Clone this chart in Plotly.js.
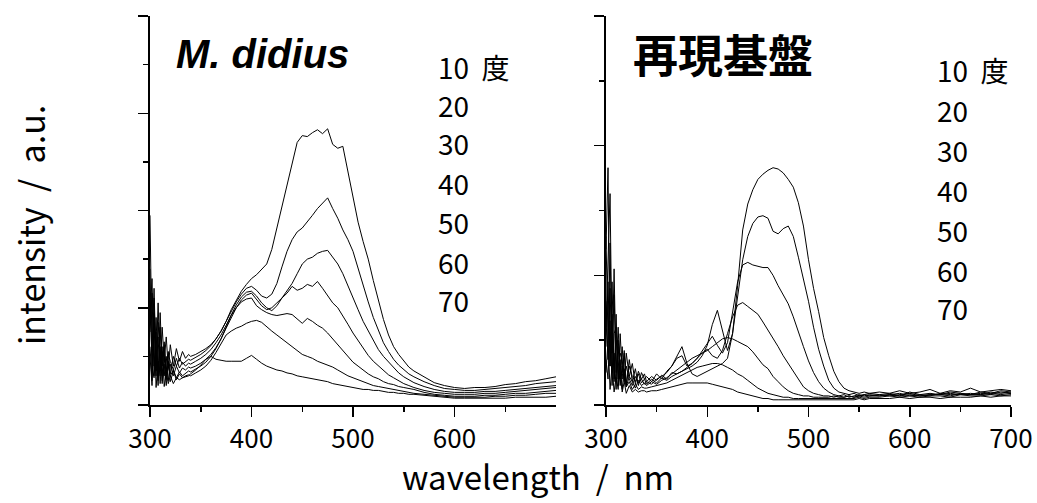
<!DOCTYPE html>
<html>
<head>
<meta charset="utf-8">
<script src="https://cdn.plot.ly/plotly-3.0.1.min.js"></script>
<style>html,body{margin:0;padding:0;background:#fff;}#chart{width:1037px;height:503px;}</style>
</head>
<body>
<div id="chart"></div>
<script>
// ---------- data ----------
const wavelength = [300,302,304,306,308,310,312,314,316,318,320,323,326,329,332,335,338,
  340,345,350,355,360,365,370,375,380,385,390,395,
  400,405,410,415,420,425,430,435,440,445,450,455,
  460,465,470,475,480,485,490,495,500,505,510,515,
  520,525,530,535,540,545,550,555,560,
  570,580,590,600,610,620,630,640,650,660,670,680,690,700];

const angleLabels = ["10\u00a0\u00a0度","20","30","40","50","60","70"];

// M. didius (left panel)
const didius10 = [1.95,0.55,1.20,0.40,1.05,0.35,0.80,0.45,0.70,0.38,0.62,0.40,0.58,0.45,0.55,0.48,0.52,
  0.50,0.52,0.55,0.58,0.62,0.68,0.76,0.86,0.98,1.08,1.17,1.24,
  1.30,1.34,1.40,1.45,1.60,1.82,2.05,2.28,2.50,2.70,2.77,2.76,
  2.80,2.83,2.79,2.84,2.68,2.64,2.66,2.40,2.15,1.88,1.68,1.50,
  1.28,1.08,0.88,0.72,0.60,0.52,0.45,0.39,0.35,
  0.29,0.23,0.20,0.18,0.17,0.18,0.18,0.19,0.21,0.22,0.24,0.25,0.27,0.29];
const didius20 = [1.40,0.35,0.95,0.30,0.85,0.50,0.30,0.65,0.35,0.55,0.32,0.50,0.40,0.48,0.42,0.45,0.47,
  0.46,0.49,0.52,0.56,0.61,0.68,0.76,0.86,0.96,1.06,1.14,1.20,
  1.22,1.18,1.12,1.10,1.14,1.25,1.42,1.58,1.70,1.78,1.82,1.88,
  1.95,2.02,2.08,2.13,2.02,1.92,1.80,1.70,1.58,1.40,1.22,1.06,
  0.90,0.76,0.64,0.55,0.47,0.41,0.36,0.32,0.29,
  0.24,0.20,0.17,0.16,0.15,0.15,0.16,0.17,0.18,0.19,0.20,0.22,0.23,0.24];
const didius30 = [0.90,1.30,0.40,0.75,0.25,0.95,0.40,0.60,0.28,0.52,0.45,0.36,0.48,0.38,0.44,0.40,0.43,
  0.42,0.45,0.48,0.52,0.57,0.64,0.72,0.82,0.93,1.03,1.11,1.16,
  1.17,1.12,1.05,1.00,0.97,1.02,1.10,1.18,1.25,1.35,1.45,1.50,
  1.52,1.56,1.58,1.59,1.52,1.45,1.35,1.22,1.10,0.98,0.86,0.76,
  0.66,0.57,0.50,0.44,0.38,0.33,0.29,0.26,0.23,
  0.19,0.16,0.14,0.13,0.13,0.13,0.14,0.14,0.15,0.16,0.17,0.18,0.19,0.20];
const didius40 = [0.60,0.25,1.10,0.35,0.70,0.22,0.55,0.30,0.50,0.25,0.42,0.30,0.40,0.33,0.38,0.36,0.39,
  0.38,0.40,0.43,0.47,0.52,0.59,0.68,0.79,0.90,1.00,1.08,1.13,
  1.15,1.08,1.02,0.98,1.00,1.05,1.10,1.15,1.22,1.18,1.20,1.24,
  1.22,1.27,1.20,1.12,1.05,1.00,0.92,0.83,0.74,0.66,0.58,0.51,
  0.45,0.40,0.35,0.31,0.28,0.25,0.22,0.20,0.18,
  0.15,0.13,0.12,0.11,0.11,0.11,0.12,0.12,0.13,0.14,0.15,0.16,0.17,0.18];
const didius50 = [1.10,0.40,0.28,0.90,0.30,0.60,0.22,0.48,0.26,0.40,0.30,0.36,0.28,0.34,0.30,0.33,0.35,
  0.34,0.37,0.40,0.44,0.50,0.58,0.68,0.80,0.92,1.00,1.06,1.09,
  1.10,1.02,0.98,0.95,0.93,0.92,0.93,0.94,0.93,0.88,0.84,0.89,
  0.86,0.82,0.79,0.74,0.68,0.62,0.55,0.49,0.44,0.40,0.36,0.32,
  0.29,0.27,0.24,0.22,0.21,0.19,0.18,0.17,0.16,
  0.13,0.11,0.10,0.09,0.09,0.09,0.10,0.10,0.11,0.12,0.12,0.13,0.14,0.15];
const didius60 = [0.75,1.15,0.30,0.55,0.20,0.80,0.25,0.42,0.20,0.45,0.24,0.35,0.26,0.32,0.28,0.30,0.31,
  0.30,0.33,0.36,0.40,0.46,0.54,0.63,0.72,0.76,0.79,0.81,0.84,
  0.86,0.87,0.85,0.80,0.76,0.72,0.68,0.64,0.60,0.56,0.52,0.50,
  0.48,0.45,0.43,0.41,0.39,0.36,0.33,0.30,0.28,0.26,0.24,0.22,
  0.20,0.19,0.18,0.17,0.16,0.15,0.14,0.13,0.12,
  0.11,0.10,0.09,0.08,0.08,0.08,0.08,0.09,0.09,0.10,0.10,0.11,0.12,0.12];
const didius70 = [0.50,0.20,0.85,0.18,0.45,0.30,0.60,0.19,0.35,0.22,0.30,0.22,0.28,0.26,0.28,0.29,0.30,
  0.32,0.36,0.41,0.47,0.50,0.47,0.46,0.45,0.45,0.45,0.45,0.48,
  0.51,0.47,0.43,0.40,0.38,0.36,0.35,0.33,0.32,0.30,0.29,0.28,
  0.27,0.26,0.25,0.24,0.22,0.21,0.20,0.19,0.18,0.17,0.16,0.16,
  0.15,0.15,0.14,0.13,0.13,0.12,0.12,0.11,0.11,
  0.10,0.09,0.08,0.07,0.07,0.07,0.07,0.07,0.07,0.08,0.08,0.08,0.08,0.09];

// 再現基盤 (right panel)
const replica10 = [1.20,1.83,0.30,0.95,0.20,0.70,0.15,0.55,0.25,0.40,0.15,0.35,0.18,0.28,0.15,0.25,0.20,
  0.22,0.18,0.24,0.20,0.26,0.30,0.38,0.45,0.32,0.24,0.22,0.24,
  0.26,0.28,0.30,0.32,0.36,0.55,0.92,1.35,1.55,1.66,1.74,1.78,
  1.81,1.83,1.82,1.79,1.74,1.68,1.56,1.38,1.12,0.90,0.72,0.52,
  0.38,0.26,0.18,0.13,0.11,0.10,0.09,0.10,0.09,
  0.10,0.09,0.11,0.09,0.10,0.12,0.09,0.11,0.10,0.13,0.10,0.11,0.12,0.11];
const replica20 = [0.60,1.10,1.63,0.40,0.85,0.25,0.60,0.20,0.45,0.18,0.40,0.22,0.32,0.16,0.26,0.20,0.24,
  0.18,0.22,0.19,0.23,0.20,0.25,0.24,0.26,0.28,0.30,0.33,0.38,
  0.46,0.62,0.73,0.58,0.42,0.55,0.85,1.12,1.30,1.40,1.45,1.46,
  1.44,1.34,1.32,1.36,1.38,1.30,1.14,0.98,0.80,0.60,0.43,0.30,
  0.19,0.13,0.10,0.09,0.08,0.09,0.07,0.08,0.09,
  0.08,0.09,0.07,0.10,0.08,0.09,0.08,0.10,0.09,0.08,0.10,0.09,0.11,0.10];
const replica30 = [1.30,0.50,0.90,0.30,1.05,0.22,0.50,0.30,0.20,0.42,0.16,0.30,0.22,0.18,0.24,0.17,0.20,
  0.16,0.20,0.17,0.21,0.19,0.22,0.24,0.26,0.29,0.32,0.36,0.42,
  0.48,0.53,0.46,0.40,0.48,0.70,0.95,1.08,1.10,1.08,1.07,1.06,
  1.06,1.00,0.92,0.85,0.78,0.68,0.56,0.45,0.34,0.25,0.18,0.13,
  0.10,0.08,0.07,0.08,0.06,0.07,0.08,0.07,0.08,
  0.07,0.08,0.09,0.07,0.08,0.07,0.09,0.08,0.08,0.09,0.08,0.10,0.09,0.10];
const replica40 = [0.80,0.35,1.25,0.25,0.55,0.60,0.20,0.40,0.35,0.18,0.30,0.20,0.15,0.22,0.17,0.20,0.16,
  0.18,0.16,0.20,0.22,0.25,0.30,0.36,0.38,0.30,0.32,0.36,0.40,
  0.43,0.38,0.36,0.42,0.55,0.68,0.77,0.79,0.76,0.73,0.70,0.64,
  0.58,0.52,0.45,0.38,0.32,0.25,0.19,0.14,0.11,0.09,0.08,0.07,
  0.07,0.06,0.07,0.06,0.07,0.06,0.07,0.08,0.07,
  0.08,0.07,0.08,0.09,0.07,0.08,0.08,0.09,0.08,0.08,0.09,0.08,0.10,0.09];
const replica50 = [0.45,0.95,0.30,0.70,0.18,0.50,0.35,0.15,0.30,0.25,0.14,0.22,0.18,0.13,0.19,0.15,0.17,
  0.15,0.18,0.16,0.19,0.21,0.24,0.27,0.30,0.33,0.36,0.38,0.40,
  0.42,0.45,0.48,0.51,0.52,0.51,0.49,0.47,0.45,0.41,0.36,0.31,
  0.28,0.22,0.18,0.14,0.11,0.09,0.08,0.07,0.07,0.06,0.06,0.06,
  0.06,0.07,0.06,0.06,0.07,0.06,0.07,0.06,0.07,
  0.07,0.08,0.07,0.08,0.07,0.08,0.08,0.07,0.09,0.08,0.08,0.09,0.08,0.09];
const replica60 = [0.35,0.20,0.65,0.15,0.40,0.12,0.45,0.20,0.12,0.28,0.14,0.18,0.12,0.16,0.12,0.14,0.13,
  0.13,0.14,0.15,0.16,0.17,0.19,0.21,0.23,0.25,0.27,0.29,0.30,
  0.31,0.32,0.32,0.31,0.29,0.27,0.24,0.22,0.19,0.16,0.13,0.11,
  0.09,0.08,0.07,0.06,0.06,0.05,0.05,0.05,0.05,0.05,0.05,0.05,
  0.05,0.05,0.05,0.05,0.05,0.05,0.06,0.05,0.06,
  0.06,0.07,0.06,0.07,0.06,0.07,0.07,0.06,0.08,0.07,0.07,0.08,0.07,0.08];
const replica70 = [0.25,0.50,0.12,0.30,0.10,0.22,0.12,0.35,0.10,0.18,0.09,0.15,0.10,0.12,0.10,0.11,0.11,
  0.10,0.11,0.11,0.12,0.13,0.14,0.15,0.16,0.17,0.17,0.17,0.17,
  0.17,0.16,0.15,0.14,0.13,0.12,0.10,0.09,0.08,0.07,0.06,0.05,
  0.05,0.04,0.04,0.04,0.04,0.04,0.04,0.04,0.04,0.04,0.04,0.04,
  0.04,0.04,0.04,0.04,0.04,0.04,0.05,0.04,0.05,
  0.05,0.05,0.06,0.05,0.06,0.06,0.05,0.06,0.06,0.06,0.07,0.06,0.07,0.07];

const didiusSeries = [didius10,didius20,didius30,didius40,didius50,didius60,didius70];
const replicaSeries = [replica10,replica20,replica30,replica40,replica50,replica60,replica70];

// ---------- figure ----------
const W = 1037, H = 503;
const fx = p => p / W;
const fy = p => 1 - p / H;
const FONT = '"Noto Sans CJK JP", "Noto Sans", sans-serif';

const traces = [];
didiusSeries.forEach((s, i) => traces.push({
  type: 'scatter', mode: 'lines', x: wavelength, y: s, xaxis: 'x', yaxis: 'y',
  name: angleLabels[i], line: {color: '#000', width: 1}, showlegend: false, hoverinfo: 'skip'
}));
replicaSeries.forEach((s, i) => traces.push({
  type: 'scatter', mode: 'lines', x: wavelength, y: s, xaxis: 'x2', yaxis: 'y2',
  name: angleLabels[i], line: {color: '#000', width: 1}, showlegend: false, hoverinfo: 'skip'
}));

const xCommon = {
  range: [300, 700], showline: true, linecolor: '#000', linewidth: 2, mirror: false,
  ticks: 'outside', ticklen: 10, tickwidth: 1.5, tickcolor: '#000',
  showgrid: false, zeroline: false, fixedrange: true,
  tickfont: {family: FONT, size: 26, color: '#000'}
};
const yCommon = {
  showline: true, linecolor: '#000', linewidth: 2,
  ticks: 'outside', ticklen: 10, tickwidth: 1.5, tickcolor: '#000',
  showticklabels: false, showgrid: false, zeroline: false, fixedrange: true
};

const annotations = [
  {text: '<b><i>M. didius</i></b>', x: fx(262), y: fy(54), xref: 'paper', yref: 'paper',
   xanchor: 'center', yanchor: 'middle', showarrow: false,
   font: {family: '"Liberation Sans", Arial, sans-serif', size: 40, color: '#000'}},
  {text: '<b>再現基盤</b>', x: fx(723), y: fy(53), xref: 'paper', yref: 'paper',
   xanchor: 'center', yanchor: 'middle', showarrow: false,
   font: {family: FONT, size: 45, color: '#000'}},
  {text: 'wavelength\u00a0\u00a0/\u00a0\u00a0nm', x: fx(538), y: fy(476), xref: 'paper', yref: 'paper',
   xanchor: 'center', yanchor: 'middle', showarrow: false,
   font: {family: FONT, size: 33, color: '#000'}},
  {text: 'intensity\u00a0\u00a0/\u00a0\u00a0a.u.', x: fx(30), y: fy(225), xref: 'paper', yref: 'paper',
   xanchor: 'center', yanchor: 'middle', showarrow: false, textangle: -90,
   font: {family: FONT, size: 34, color: '#000'}}
];
const leftRows = [67, 105, 143, 183, 222, 262, 300];
const rightRows = [70, 110, 150, 190, 230, 270, 308];
angleLabels.forEach((t, i) => {
  annotations.push({text: t, x: fx(436), y: fy(leftRows[i]), xref: 'paper', yref: 'paper',
    xanchor: 'left', yanchor: 'middle', showarrow: false,
    font: {family: FONT, size: 28, color: '#000'}});
  annotations.push({text: t, x: fx(935), y: fy(rightRows[i]), xref: 'paper', yref: 'paper',
    xanchor: 'left', yanchor: 'middle', showarrow: false,
    font: {family: FONT, size: 28, color: '#000'}});
});

const layout = {
  width: W, height: H,
  margin: {l: 0, r: 0, t: 0, b: 0, pad: 0},
  paper_bgcolor: '#fff', plot_bgcolor: '#fff',
  showlegend: false,
  xaxis: Object.assign({}, xCommon, {
    domain: [fx(150), fx(556)], anchor: 'y',
    tickmode: 'array', tickvals: [300, 400, 500, 600], ticktext: ['300', '400', '500', '600'],
    minor: {tickmode: 'array', tickvals: [350, 450, 550, 650], ticks: 'outside', ticklen: 5, tickwidth: 1.5, tickcolor: '#000', showgrid: false}
  }),
  xaxis2: Object.assign({}, xCommon, {
    domain: [fx(606), fx(1011)], anchor: 'y2',
    tickmode: 'array', tickvals: [300, 400, 500, 600, 700], ticktext: ['300', '400', '500', '600', '700'],
    minor: {tickmode: 'array', tickvals: [350, 450, 550, 650], ticks: 'outside', ticklen: 5, tickwidth: 1.5, tickcolor: '#000', showgrid: false}
  }),
  yaxis: Object.assign({}, yCommon, {
    domain: [fy(405), fy(16)], anchor: 'x', range: [0, 4],
    tickmode: 'array', tickvals: [0, 1, 2, 3, 4],
    minor: {tickmode: 'array', tickvals: [0.5, 1.5, 2.5, 3.5], ticks: 'outside', ticklen: 5, tickwidth: 1.5, tickcolor: '#000', showgrid: false}
  }),
  yaxis2: Object.assign({}, yCommon, {
    domain: [fy(405), fy(16)], anchor: 'x2', range: [0, 3],
    tickmode: 'array', tickvals: [0, 1, 2, 3],
    minor: {tickmode: 'array', tickvals: [0.5, 1.5, 2.5], ticks: 'outside', ticklen: 5, tickwidth: 1.5, tickcolor: '#000', showgrid: false}
  }),
  annotations: annotations
};

Plotly.newPlot('chart', traces, layout, {staticPlot: true, displayModeBar: false});
</script>
</body>
</html>
